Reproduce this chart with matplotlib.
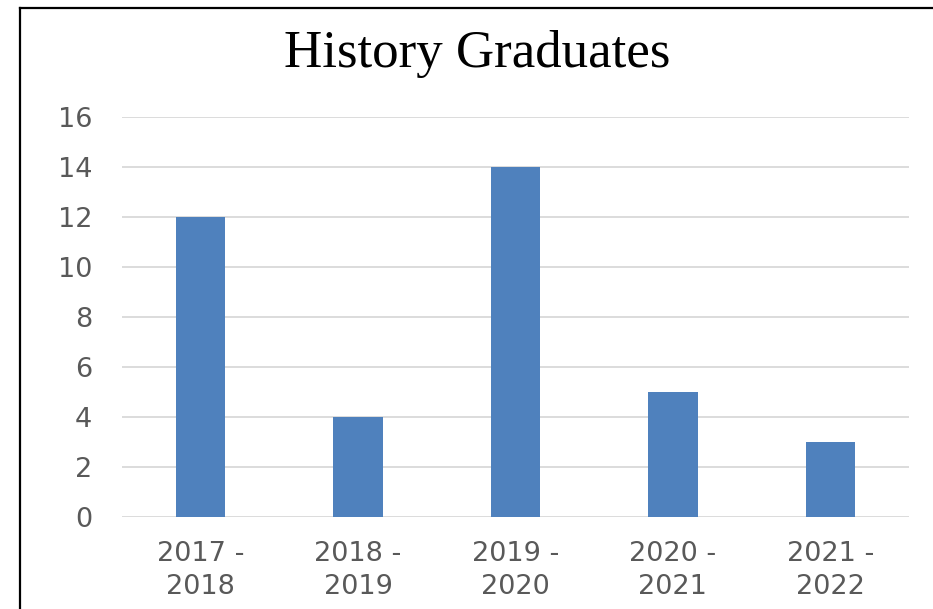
import matplotlib.pyplot as plt
from matplotlib.lines import Line2D

# 数据
categories = ['2017 -\n2018', '2018 -\n2019', '2019 -\n2020', '2020 -\n2021', '2021 -\n2022']
graduates = [12, 4, 14, 5, 3]
y_ticks = [0, 2, 4, 6, 8, 10, 12, 14, 16]

W, H = 933, 609
fig = plt.figure(figsize=(W / 100, H / 100), dpi=100)
ax = fig.add_axes([122 / W, 1 - 517 / H, (909 - 122) / W, (517 - 117) / H])

x = range(len(categories))
ax.bar(x, graduates, width=0.315, color='#4F81BD', zorder=3)

ax.set_xlim(-0.5, len(categories) - 0.5)
ax.set_ylim(0, 16)
ax.set_yticks(y_ticks)
ax.set_xticks(list(x))
ax.set_xticklabels(categories, linespacing=1.35)
ax.grid(axis='y', color='#d9d9d9', linewidth=1.3, zorder=0)
for s in ax.spines.values():
    s.set_visible(False)
ax.tick_params(axis='both', length=0, labelcolor='#595959', labelsize=19.5)
ax.tick_params(axis='y', pad=21.5)
ax.tick_params(axis='x', pad=17)
for lbl in ax.get_xticklabels() + ax.get_yticklabels():
    lbl.set_fontfamily('DejaVu Sans')

fig.text(477 / W, 1 - 67 / H, 'History Graduates', ha='center', va='baseline',
         fontsize=38.2, family='Liberation Serif', color='black')

# 外框（只露出左边和上边）
fig.add_artist(Line2D([20 / W, 20 / W], [0, 1 - 8 / H], color='black', linewidth=1.6))
fig.add_artist(Line2D([20 / W, 1], [1 - 8 / H, 1 - 8 / H], color='black', linewidth=1.6))

fig.savefig('out.png', dpi=100)
